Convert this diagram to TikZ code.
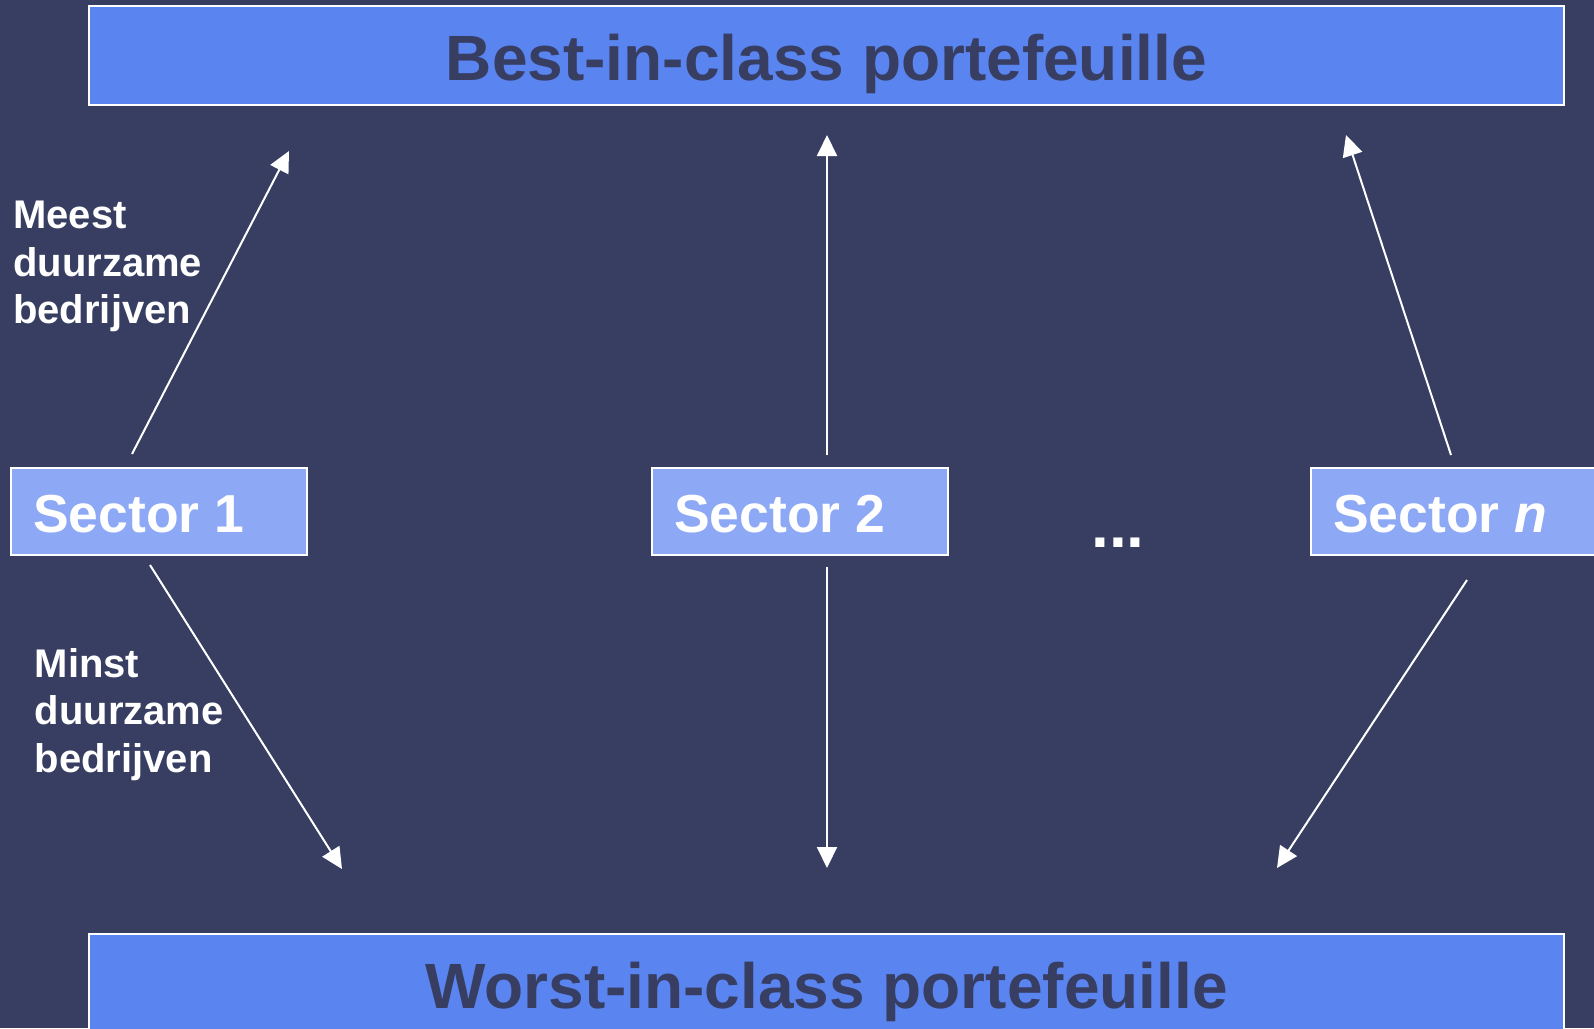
\documentclass[tikz,border=0pt]{standalone}
\usepackage{fontspec}
\setmainfont{Liberation Sans}
\usetikzlibrary{arrows.meta}
\definecolor{bgcol}{RGB}{55,62,98}
\definecolor{bigfill}{RGB}{90,132,240}
\definecolor{secfill}{RGB}{141,168,245}
\begin{document}
\begin{tikzpicture}[x=1pt,y=-1pt,
  bigbox/.style={draw=white, line width=2pt, fill=bigfill, rectangle, inner sep=0pt},
  secbox/.style={draw=white, line width=1.6pt, fill=secfill, rectangle, inner sep=0pt},
  bigtext/.style={inner sep=0pt, anchor=base, text=bgcol, font=\fontsize{64}{77}\selectfont\bfseries},
  sectext/.style={inner sep=0pt, anchor=base west, text=white, font=\fontsize{53.5}{64}\selectfont\bfseries},
  sidetext/.style={inner sep=0pt, anchor=north west, align=left, text=white, font=\fontsize{40}{47.5}\selectfont\bfseries},
  arr/.style={draw=white, line width=2pt, -{Triangle[length=21pt,width=20pt]}}
]
\useasboundingbox[fill=bgcol] (0,0) rectangle (1594,1028);

% big boxes
\node[bigbox, minimum width=1475pt, minimum height=99pt] (best) at (826.5,55.5) {};
\node[bigtext] (besttxt) at (826.5,80) {Best-in-class portefeuille};
\node[bigbox, minimum width=1475pt, minimum height=100pt] (worst) at (826.5,984) {};
\node[bigtext] (worsttxt) at (826.5,1008) {Worst-in-class portefeuille};

% sector boxes
\node[secbox, minimum width=296pt, minimum height=87pt] (s1) at (159,511.5) {};
\node[sectext] (s1t) at (33,532) {Sector 1};
\node[secbox, minimum width=296pt, minimum height=87pt] (s2) at (800,511.5) {};
\node[sectext] (s2t) at (674,532) {Sector 2};
\node[secbox, minimum width=310pt, minimum height=87pt] (sn) at (1466,511.5) {};
\node[sectext] (snt) at (1333,532) {Sector \textit{n}};

\node[inner sep=0pt, anchor=base west, text=white, font=\fontsize{64}{77}\selectfont\bfseries] (dots) at (1091,547) {...};

% side labels
\node[sidetext] (meest) at (13,201) {Meest\\duurzame\\bedrijven};
\node[sidetext] (minst) at (34.5,648) {Minst\\duurzame\\bedrijven};

% arrow end points
\coordinate (a1s) at (132,454);  \coordinate (a1e) at (289,151);
\coordinate (a2s) at (827,455);  \coordinate (a2e) at (827,135);
\coordinate (a3s) at (1451,455); \coordinate (a3e) at (1346,135);
\coordinate (a4s) at (150,565);  \coordinate (a4e) at (342,869);
\coordinate (a5s) at (827,567);  \coordinate (a5e) at (827,868);
\coordinate (a6s) at (1467,580); \coordinate (a6e) at (1277,868);

\draw[arr] (a1s) -- (a1e);
\draw[arr] (a2s) -- (a2e);
\draw[arr] (a3s) -- (a3e);
\draw[arr] (a4s) -- (a4e);
\draw[arr] (a5s) -- (a5e);
\draw[arr] (a6s) -- (a6e);
\end{tikzpicture}
\end{document}
